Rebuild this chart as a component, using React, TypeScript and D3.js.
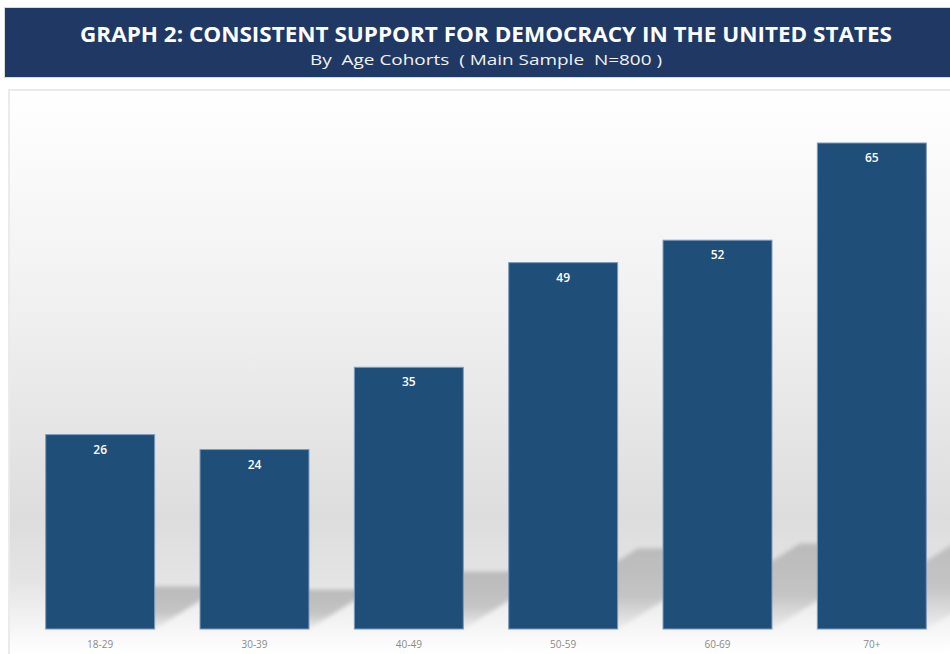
import React from "react";
import * as d3 from "d3";

const categories: string[] = ["18-29", "30-39", "40-49", "50-59", "60-69", "70+"];
const values: number[] = [26, 24, 35, 49, 52, 65];
const titleText = "GRAPH 2: CONSISTENT SUPPORT FOR DEMOCRACY IN THE UNITED STATES";
const subtitleText = "By  Age Cohorts  ( Main Sample  N=800 )";

const W = 950;
const H = 654;
const BASE = 629;

export default function App() {
  const x = d3.scaleBand<string>().domain(categories).range([23, 949]).paddingInner(0.294).paddingOuter(0.147);
  const y = d3.scaleLinear().domain([0, 70]).range([BASE, BASE - 70 * 7.477]);
  const bw = x.bandwidth();

  return (
    <div style={{ position: "absolute", left: 0, top: 0 }}>
      <svg width={W} height={H} style={{ display: "block" }}>
        <defs>
          <linearGradient id="bg" gradientUnits="userSpaceOnUse" x1="0" y1="90" x2="0" y2="654">
            <stop offset="0" stopColor="#ffffff" />
            <stop offset={(300 - 90) / 564} stopColor="#f1f1f1" />
            <stop offset={(520 - 90) / 564} stopColor="#dddddd" />
            <stop offset={(580 - 90) / 564} stopColor="#e4e4e4" />
            <stop offset={(640 - 90) / 564} stopColor="#fafafa" />
            <stop offset="1" stopColor="#ffffff" />
          </linearGradient>
          <linearGradient id="sh" x1="0" y1="0" x2="0" y2="1">
            <stop offset="0" stopColor="#bababa" />
            <stop offset="0.6" stopColor="#c4c4c4" />
            <stop offset="1" stopColor="#eeeeee" />
          </linearGradient>
          <filter id="blur" x="-10%" y="-10%" width="120%" height="120%">
            <feGaussianBlur stdDeviation="2" />
          </filter>
          <clipPath id="panelClip">
            <rect x={10} y={91} width={W - 10} height={H - 91} />
          </clipPath>
        </defs>
        <rect x={0} y={0} width={W} height={H} fill="#ffffff" />
        {/* banner */}
        <rect x={4} y={7} width={W} height={71} fill="#d9d9d9" />
        <rect x={5} y={8} width={W} height={69} fill="#1f3864" />
        <text
          x={486}
          y={42}
          textAnchor="middle"
          fill="#ffffff"
          fontFamily="'Open Sans', 'Liberation Sans', sans-serif"
          fontWeight={700}
          fontSize={22}
          textLength={812}
          lengthAdjust="spacingAndGlyphs"
        >
          {titleText}
        </text>
        <text
          x={486}
          y={65}
          textAnchor="middle"
          fill="#f2f2f2"
          fontFamily="'Open Sans', 'Liberation Sans', sans-serif"
          fontSize={15}
          textLength={352}
          lengthAdjust="spacingAndGlyphs"
          style={{ whiteSpace: "pre" }}
        >
          {subtitleText}
        </text>
        {/* panel */}
        <rect x={8} y={89} width={W} height={H} fill="#ebebeb" />
        <rect x={10} y={91} width={W} height={H} fill="url(#bg)" />
        <g clipPath="url(#panelClip)">
          {values.map((v, i) => {
            const L = x(categories[i])!;
            const R = L + bw;
            const h = BASE - y(v);
            const hs = 0.22 * h;
            const dx = 1.6 * hs;
            const pts = [
              [L, BASE],
              [R, BASE],
              [R + dx, BASE - hs],
              [L + dx, BASE - hs],
            ]
              .map((p) => p.join(","))
              .join(" ");
            return <polygon key={"s" + i} points={pts} fill="url(#sh)" filter="url(#blur)" />;
          })}
          {values.map((v, i) => (
            <rect
              key={"b" + i}
              x={x(categories[i])!}
              y={y(v)}
              width={bw}
              height={BASE - y(v)}
              fill="#1f4e79"
              stroke="#7d9bbf"
              strokeWidth={1}
            />
          ))}
          {values.map((v, i) => (
            <text
              key={"v" + i}
              x={x(categories[i])! + bw / 2}
              y={y(v) + 19}
              textAnchor="middle"
              fill="#ffffff"
              fontFamily="'Open Sans', 'Liberation Sans', sans-serif"
              fontWeight={600}
              fontSize={12}
            >
              {v}
            </text>
          ))}
          {categories.map((c) => (
            <text
              key={"c" + c}
              x={x(c)! + bw / 2}
              y={648}
              textAnchor="middle"
              fill="#8a8a8a"
              fontFamily="'Open Sans', 'Liberation Sans', sans-serif"
              fontSize={10}
            >
              {c}
            </text>
          ))}
        </g>
      </svg>
    </div>
  );
}
